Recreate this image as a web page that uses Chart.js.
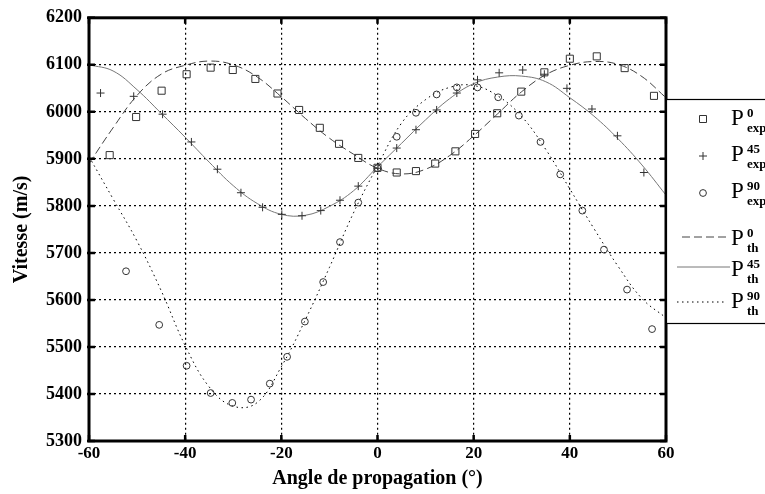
<!DOCTYPE html>
<html>
<head>
<meta charset="utf-8">
<script src="https://cdn.jsdelivr.net/npm/chart.js@4.4.0/dist/chart.umd.min.js"></script>
<style>
  html, body { margin: 0; padding: 0; background: #fff; }
  #wrap { width: 765px; height: 494px; }
</style>
</head>
<body>
<div id="wrap"><canvas id="vitesse-chart" width="765" height="494"></canvas></div>
<script>
// axes
var xTicks = [-60, -40, -20, 0, 20, 40, 60];
var yTicks = [5300, 5400, 5500, 5600, 5700, 5800, 5900, 6000, 6100, 6200];

// theoretical curves (read every 5 deg)
var angleTh = [-60, -55, -50, -45, -40, -35, -30, -25, -20, -15, -10, -5, 0, 5, 10, 15, 20, 25, 30, 35, 40, 45, 50, 55, 60];
var p0Th  = [5890, 5966, 6035, 6080, 6099, 6108, 6100, 6074, 6032, 5986, 5944, 5910, 5880, 5868, 5878, 5907, 5949, 5996, 6043, 6079, 6099, 6107, 6101, 6075, 6030];
var p45Th = [6100, 6087, 6047, 5997, 5946, 5893, 5843, 5805, 5782, 5780, 5799, 5832, 5883, 5933, 5983, 6028, 6060, 6074, 6076, 6064, 6030, 5991, 5943, 5887, 5823];
var p90Th = [5905, 5815, 5725, 5620, 5503, 5415, 5374, 5382, 5458, 5558, 5669, 5785, 5885, 5976, 6026, 6052, 6056, 6034, 5990, 5920, 5836, 5752, 5672, 5603, 5562];

// measured points
var p0ExpAngle = [-55.7, -50.2, -44.9, -39.7, -34.7, -30.1, -25.4, -20.8, -16.3, -12.0, -8.0, -4.0, 0, 4.0, 8.0, 12.0, 16.2, 20.3, 24.9, 29.9, 34.7, 40.0, 45.6, 51.4, 57.5];
var p0Exp      = [5908, 5989, 6045, 6080, 6094, 6089, 6070, 6039, 6004, 5966, 5932, 5902, 5881, 5871, 5874, 5890, 5916, 5953, 5997, 6043, 6084, 6113, 6118, 6093, 6034];
var p45ExpAngle = [-57.6, -50.7, -44.7, -38.7, -33.3, -28.4, -23.9, -19.9, -15.7, -11.8, -7.8, -4.0, 0.1, 4.0, 8.0, 12.3, 16.5, 20.8, 25.3, 30.2, 34.7, 39.4, 44.6, 49.9, 55.4];
var p45Exp      = [6040, 6033, 5995, 5936, 5878, 5828, 5797, 5782, 5779, 5790, 5812, 5842, 5880, 5923, 5962, 6004, 6040, 6068, 6083, 6089, 6080, 6050, 6006, 5949, 5871];
var p90ExpAngle = [-52.3, -45.4, -39.7, -34.7, -30.2, -26.3, -22.4, -18.8, -15.1, -11.3, -7.8, -4.0, 0, 4.0, 8.0, 12.3, 16.5, 20.8, 25.1, 29.4, 33.9, 38.0, 42.6, 47.1, 51.9, 57.1];
var p90Exp      = [5661, 5547, 5460, 5402, 5381, 5388, 5422, 5479, 5554, 5638, 5723, 5807, 5880, 5947, 5998, 6037, 6052, 6052, 6031, 5992, 5936, 5867, 5790, 5707, 5622, 5538];

function pts(xs, ys) {
    return xs.map(function(x, i) { return {x: x, y: ys[i]}; });
}

var serif = '"Liberation Serif", "Times New Roman", serif';

// frame + inward ticks like the matlab axes box
var framePlugin = {
    id: 'frame',
    afterDatasetsDraw: function(chart) {
        var ctx = chart.ctx, a = chart.chartArea;
        var xs = chart.scales.x, ys = chart.scales.y;
        ctx.save();
        ctx.strokeStyle = '#000';
        ctx.lineWidth = 2.5;
        xTicks.forEach(function(v) {
            var px = xs.getPixelForValue(v);
            ctx.beginPath();
            ctx.moveTo(px, a.bottom); ctx.lineTo(px, a.bottom - 6);
            ctx.moveTo(px, a.top); ctx.lineTo(px, a.top + 6);
            ctx.stroke();
        });
        yTicks.forEach(function(v) {
            var py = ys.getPixelForValue(v);
            ctx.beginPath();
            ctx.moveTo(a.left - 2, py); ctx.lineTo(a.left + 6, py);
            ctx.moveTo(a.right, py); ctx.lineTo(a.right - 6, py);
            ctx.stroke();
        });
        ctx.lineWidth = 3;
        ctx.strokeRect(a.left, a.top, a.right - a.left, a.bottom - a.top);
        ctx.restore();
    }
};

// legend box sitting over the right edge
var legendPlugin = {
    id: 'boxLegend',
    afterDraw: function(chart) {
        var ctx = chart.ctx;
        var bx = 666, by = 99, bw = 120, bh = 224;
        ctx.save();
        ctx.fillStyle = '#fff';
        ctx.fillRect(bx, by, bw, bh);
        ctx.strokeStyle = '#000';
        ctx.lineWidth = 1.2;
        ctx.strokeRect(bx + 0.5, by + 0.5, bw, bh);

        var items = [
            {sym: 'rect', y: 119, base: 125, sup: '0', sub: 'exp'},
            {sym: 'cross', y: 156, base: 161, sup: '45', sub: 'exp'},
            {sym: 'circle', y: 193, base: 198, sup: '90', sub: 'exp'},
            {sym: 'dash', y: 237, base: 245, sup: '0', sub: 'th'},
            {sym: 'solid', y: 267, base: 276, sup: '45', sub: 'th'},
            {sym: 'dot', y: 302, base: 308, sup: '90', sub: 'th'}
        ];
        items.forEach(function(it) {
            ctx.strokeStyle = '#333';
            ctx.lineWidth = 1;
            ctx.setLineDash([]);
            ctx.beginPath();
            if (it.sym === 'rect') {
                ctx.rect(699.5, it.y - 3.5, 7, 7);
            } else if (it.sym === 'cross') {
                ctx.moveTo(699, it.y); ctx.lineTo(707, it.y);
                ctx.moveTo(703, it.y - 4); ctx.lineTo(703, it.y + 4);
            } else if (it.sym === 'circle') {
                ctx.arc(703, it.y, 3.4, 0, Math.PI * 2);
            } else if (it.sym === 'dash') {
                ctx.strokeStyle = '#444';
                ctx.setLineDash([8, 4]);
                ctx.moveTo(682, it.y); ctx.lineTo(730, it.y);
            } else if (it.sym === 'solid') {
                ctx.strokeStyle = '#777';
                ctx.moveTo(677, it.y); ctx.lineTo(730, it.y);
            } else {
                ctx.strokeStyle = '#000';
                ctx.setLineDash([1.5, 3.5]);
                ctx.moveTo(677, it.y); ctx.lineTo(727, it.y);
            }
            ctx.stroke();
            ctx.setLineDash([]);

            ctx.fillStyle = '#000';
            ctx.textBaseline = 'alphabetic';
            ctx.textAlign = 'left';
            ctx.font = '23px ' + serif;
            ctx.fillText('P', 731, it.base);
            ctx.font = 'bold 13px ' + serif;
            ctx.fillText(it.sup, 747, it.base - 8);
            ctx.font = 'bold 13px ' + serif;
            ctx.fillText(it.sub, 747, it.base + 7);
        });
        ctx.restore();
    }
};

var ctx1 = document.getElementById('vitesse-chart').getContext('2d');
var vitesseChart = new Chart(ctx1, {
    type: 'scatter',
    data: {
        datasets: [
            {
                label: 'P0 exp',
                data: pts(p0ExpAngle, p0Exp),
                pointStyle: 'rect',
                pointRadius: 5,
                borderColor: '#333',
                backgroundColor: 'transparent',
                pointBorderWidth: 1,
                showLine: false
            },
            {
                label: 'P45 exp',
                data: pts(p45ExpAngle, p45Exp),
                pointStyle: 'cross',
                pointRadius: 4,
                borderColor: '#333',
                pointBorderWidth: 1,
                showLine: false
            },
            {
                label: 'P90 exp',
                data: pts(p90ExpAngle, p90Exp),
                pointStyle: 'circle',
                pointRadius: 3.4,
                borderColor: '#333',
                backgroundColor: 'transparent',
                pointBorderWidth: 1,
                showLine: false
            },
            {
                label: 'P0 th',
                data: pts(angleTh, p0Th),
                showLine: true,
                pointRadius: 0,
                borderColor: '#444',
                borderWidth: 1,
                borderDash: [8, 4],
                tension: 0.4
            },
            {
                label: 'P45 th',
                data: pts(angleTh, p45Th),
                showLine: true,
                pointRadius: 0,
                borderColor: '#777',
                borderWidth: 1,
                tension: 0.4
            },
            {
                label: 'P90 th',
                data: pts(angleTh, p90Th),
                showLine: true,
                pointRadius: 0,
                borderColor: '#000',
                borderWidth: 1,
                borderDash: [1.5, 3.5],
                tension: 0.4
            }
        ]
    },
    options: {
        responsive: false,
        animation: false,
        layout: { padding: { top: 13, right: 99, left: 0, bottom: 0 } },
        plugins: {
            legend: { display: false },
            tooltip: { enabled: false }
        },
        scales: {
            x: {
                type: 'linear',
                min: -60, max: 60,
                afterFit: function(s) { s.height = 53; },
                afterBuildTicks: function(s) { s.ticks = xTicks.map(function(v) { return {value: v}; }); },
                ticks: {
                    padding: 2,
                    color: '#000',
                    font: { family: serif, size: 17, weight: 'bold' },
                    callback: function(v) { return String(v); }
                },
                grid: { color: '#000', lineWidth: 1.2, drawTicks: false },
                border: { display: false, dash: [2, 3] },
                title: {
                    display: true,
                    text: 'Angle de propagation (°)',
                    color: '#000',
                    font: { family: serif, size: 20, weight: 'bold' },
                    padding: { top: 0, bottom: 3 }
                }
            },
            y: {
                type: 'linear',
                min: 5300, max: 6200,
                afterFit: function(s) { s.width = 89; },
                afterBuildTicks: function(s) { s.ticks = yTicks.map(function(v) { return {value: v}; }); },
                ticks: {
                    padding: 7,
                    color: '#000',
                    font: { family: serif, size: 18, weight: 'bold' },
                    callback: function(v) { return String(v); }
                },
                grid: { color: '#000', lineWidth: 1.2, drawTicks: false },
                border: { display: false, dash: [2, 3] },
                title: {
                    display: true,
                    text: 'Vitesse (m/s)',
                    color: '#000',
                    font: { family: serif, size: 20, weight: 'bold' },
                    padding: { top: 10, bottom: 0 }
                }
            }
        }
    },
    plugins: [framePlugin, legendPlugin]
});
</script>
</body>
</html>
